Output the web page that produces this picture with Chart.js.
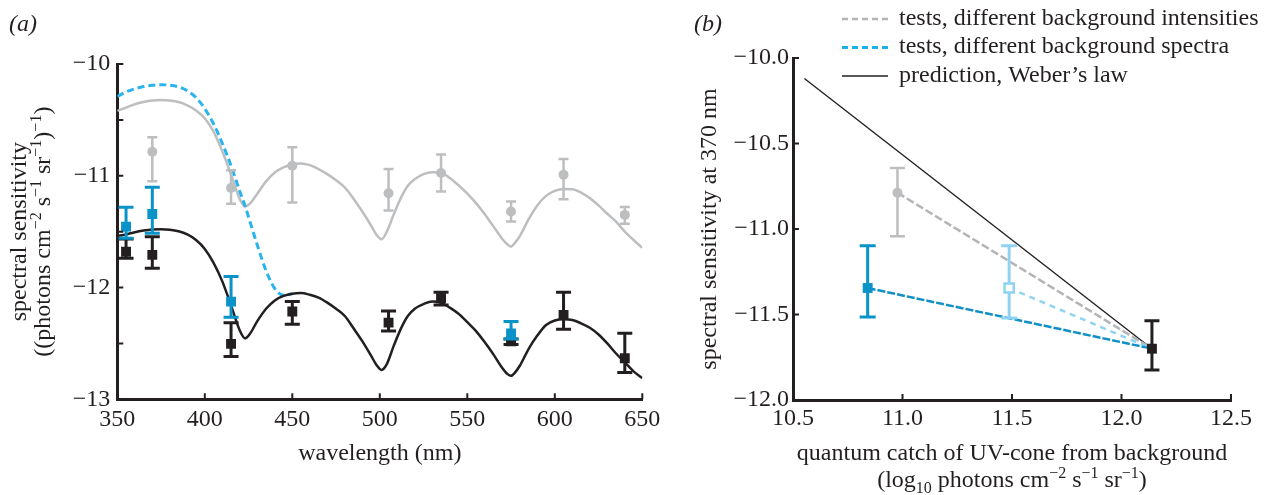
<!DOCTYPE html>
<html>
<head>
<meta charset="utf-8">
<script src="https://cdn.jsdelivr.net/npm/chart.js@4.4.1/dist/chart.umd.min.js"></script>
<style>
  html, body { margin: 0; padding: 0; background: #fff; }
  #wrap { position: relative; width: 1265px; height: 495px; overflow: hidden; }
  #panelA { position: absolute; left: 0; top: 0; }
  #panelB { position: absolute; left: 680px; top: 0; }
</style>
</head>
<body>
<div id="wrap">
  <canvas id="panelA" width="670" height="495"></canvas>
  <canvas id="panelB" width="585" height="495"></canvas>
</div>
<script>
// ---- panel (a): model curves, spectral sensitivity vs wavelength ----
const wavelengths = [350, 355, 360, 365, 370, 375, 380, 385, 390, 395, 400, 405, 410, 415, 420, 423, 426, 430, 435, 440,
  445, 450, 455, 460, 465, 470, 475, 480, 485, 490, 495, 498, 501, 504, 508, 512, 516, 520, 525, 530,
  535, 540, 545, 550, 555, 560, 565, 570, 573, 575, 577, 580, 585, 590, 595, 600, 605, 610, 615, 620,
  625, 630, 635, 640, 645, 650];
const curveIntensity = [-10.42, -10.39, -10.36, -10.34, -10.327, -10.322, -10.327, -10.34, -10.37, -10.415, -10.485, -10.605, -10.78, -10.99, -11.21, -11.275, -11.245, -11.16, -11.05, -10.97,
  -10.925, -10.90, -10.89, -10.905, -10.94, -10.985, -11.04, -11.105, -11.205, -11.32, -11.445, -11.525, -11.568, -11.50, -11.345, -11.20, -11.09, -11.03, -10.985, -10.968,
  -10.972, -11.02, -11.085, -11.16, -11.245, -11.345, -11.455, -11.565, -11.615, -11.634, -11.605, -11.54, -11.39, -11.265, -11.18, -11.135, -11.118, -11.12, -11.15, -11.20,
  -11.265, -11.34, -11.41, -11.50, -11.575, -11.645];
const curvePrediction = [-11.54, -11.525, -11.505, -11.49, -11.48, -11.478, -11.483, -11.497, -11.525, -11.575, -11.655, -11.78, -11.945, -12.16, -12.385, -12.455, -12.41, -12.30, -12.19, -12.115,
  -12.075, -12.055, -12.05, -12.065, -12.09, -12.135, -12.19, -12.255, -12.365, -12.48, -12.61, -12.69, -12.737, -12.685, -12.52, -12.37, -12.255, -12.19, -12.148, -12.125,
  -12.135, -12.18, -12.235, -12.31, -12.39, -12.49, -12.60, -12.72, -12.775, -12.79, -12.765, -12.70, -12.55, -12.43, -12.335, -12.295, -12.283, -12.29, -12.32, -12.36,
  -12.42, -12.50, -12.59, -12.67, -12.75, -12.81];
const spectraWl = [350, 355, 360, 365, 370, 375, 380, 385, 390, 395, 400, 405, 410, 415, 420, 423, 426, 430, 435, 440, 445, 450];
const curveSpectra = [-10.29, -10.25, -10.222, -10.202, -10.19, -10.185, -10.19, -10.205, -10.24, -10.30, -10.40, -10.535, -10.71, -10.91, -11.14, -11.27, -11.42, -11.62, -11.85, -12.01, -12.07, -12.055];

// ---- panel (a): measurements with error bars ----
const grayWl = [370, 415, 450, 505, 535, 575, 605, 640];
const grayMean = [-10.785, -11.11, -10.91, -11.157, -10.975, -11.32, -10.99, -11.35];
const grayHi = [-10.655, -10.95, -10.745, -10.94, -10.81, -11.23, -10.85, -11.28];
const grayLo = [-11.05, -11.25, -11.24, -11.31, -11.14, -11.41, -11.21, -11.43];

const blackWl = [355, 370, 415, 450, 505, 535, 575, 605, 640];
const blackMean = [-11.68, -11.708, -12.504, -12.215, -12.314, -12.096, -12.48, -12.245, -12.633];
const blackHi = [-11.565, -11.545, -12.314, -12.125, -12.209, -12.042, -12.46, -12.042, -12.409];
const blackLo = [-11.738, -11.828, -12.618, -12.328, -12.388, -12.156, -12.51, -12.373, -12.761];

const blueWl = [355, 370, 415, 575];
const blueMean = [-11.455, -11.342, -12.126, -12.41];
const blueHi = [-11.282, -11.103, -11.902, -12.305];
const blueLo = [-11.559, -11.514, -12.266, -12.46];

// ---- panel (b): sensitivity at 370 nm vs background quantum catch ----
const catchGray = [10.977], sensGray = [-10.788], sensGrayHi = [-10.643], sensGrayLo = [-11.043];
const catchBlue = [10.841], sensBlue = [-11.345], sensBlueHi = [-11.098], sensBlueLo = [-11.514];
const catchBlueAlt = [11.487], sensBlueAlt = [-11.345], sensBlueAltHi = [-11.098], sensBlueAltLo = [-11.52];
const catchBlack = [12.139], sensBlack = [-11.70], sensBlackHi = [-11.537], sensBlackLo = [-11.825];
const weberCatch = [10.552, 12.139];
const weberSens = [-10.12, -11.70];

const legendLabels = ['tests, different background intensities', 'tests, different background spectra', 'prediction, Weber\u2019s law'];

const SERIF = "'Liberation Serif', 'Times New Roman', serif";
const INK = '#231f20';
const GRAY = '#bcbec0';
const BLUE = '#0a93c8';
const CYAN = '#2ab4ee';
const LIGHT = '#8fd3f3';
const MINUS = '\u2212';

Chart.defaults.font.family = SERIF;
Chart.defaults.font.size = 24;
Chart.defaults.color = INK;

const pts = (xs, ys) => xs.map((x, i) => ({ x: x, y: ys[i] }));

// vertical error bars, drawn just before their dataset so markers sit on top
const errorBars = {
  id: 'errorBars',
  beforeDatasetDraw(chart, args) {
    const ds = chart.data.datasets[args.index];
    if (!ds.errLo) return;
    const xs = chart.scales.x, ys = chart.scales.y;
    const ctx = chart.ctx;
    const half = ds.capWidth / 2;
    ctx.save();
    ctx.strokeStyle = ds.errColor;
    ctx.lineWidth = ds.errWidth;
    ctx.setLineDash([]);
    ctx.beginPath();
    ds.data.forEach((p, i) => {
      const px = xs.getPixelForValue(p.x);
      const top = ys.getPixelForValue(ds.errHi[i]);
      const bot = ys.getPixelForValue(ds.errLo[i]);
      ctx.moveTo(px, top); ctx.lineTo(px, bot);
      ctx.moveTo(px - half, top); ctx.lineTo(px + half, top);
      ctx.moveTo(px - half, bot); ctx.lineTo(px + half, bot);
    });
    ctx.stroke();
    ctx.restore();
  }
};

// ticks point into the plot
function inwardTicks(chart, len) {
  const ctx = chart.ctx, area = chart.chartArea;
  const xs = chart.scales.x, ys = chart.scales.y;
  ctx.save();
  ctx.strokeStyle = INK;
  ctx.lineWidth = 2;
  ctx.beginPath();
  xs.ticks.forEach(t => {
    const px = xs.getPixelForValue(t.value);
    ctx.moveTo(px, area.bottom); ctx.lineTo(px, area.bottom - len);
  });
  ys.ticks.forEach(t => {
    const py = ys.getPixelForValue(t.value);
    ctx.moveTo(area.left, py); ctx.lineTo(area.left + len, py);
  });
  ctx.stroke();
  ctx.restore();
}

// text with super/subscripts: parts = [[text, shift]], shift 1 = sup, -1 = sub
function richText(ctx, parts, x, y, size, align) {
  const small = Math.round(size * 0.66);
  const font = s => (s ? small : size) + 'px ' + SERIF;
  let total = 0;
  parts.forEach(([t, s]) => { ctx.font = font(s); total += ctx.measureText(t).width; });
  let cx = align === 'center' ? x - total / 2 : x;
  ctx.textAlign = 'left';
  ctx.textBaseline = 'alphabetic';
  parts.forEach(([t, s]) => {
    ctx.font = font(s);
    const dy = s === 1 ? -size * 0.38 : (s === -1 ? size * 0.24 : 0);
    ctx.fillText(t, cx, y + dy);
    cx += ctx.measureText(t).width;
  });
}

function rotatedText(ctx, parts, baseX, centerY, size) {
  ctx.save();
  ctx.translate(baseX, centerY);
  ctx.rotate(-Math.PI / 2);
  richText(ctx, parts, 0, 0, size, 'center');
  ctx.restore();
}

const panelADecor = {
  id: 'panelADecor',
  afterDraw(chart) {
    const ctx = chart.ctx, area = chart.chartArea;
    inwardTicks(chart, 6);
    ctx.save();
    ctx.fillStyle = INK;
    ctx.font = 'italic 24px ' + SERIF;
    ctx.textAlign = 'left';
    ctx.textBaseline = 'alphabetic';
    ctx.fillText('(a)', 9, 31);
    richText(ctx, [['wavelength (nm)', 0]], (area.left + area.right) / 2, 460, 24, 'center');
    const midY = (area.top + area.bottom) / 2;
    rotatedText(ctx, [['spectral sensitivity', 0]], 26, midY, 24);
    rotatedText(ctx, [['((photons cm', 0], [MINUS + '2', 1], [' s', 0], [MINUS + '1', 1], [' sr', 0], [MINUS + '1', 1], [')', 0], [MINUS + '1', 1], [')', 0]], 50, midY, 24);
    ctx.restore();
  }
};

const panelBDecor = {
  id: 'panelBDecor',
  afterDraw(chart) {
    const ctx = chart.ctx, area = chart.chartArea;
    inwardTicks(chart, 6);
    ctx.save();
    ctx.fillStyle = INK;
    ctx.font = 'italic 24px ' + SERIF;
    ctx.textAlign = 'left';
    ctx.textBaseline = 'alphabetic';
    ctx.fillText('(b)', 14, 31);

    // legend
    const samples = [
      { color: '#b3b4b7', dash: [6, 4], width: 2.5 },
      { color: '#1ab0ea', dash: [6, 4], width: 3 },
      { color: INK, dash: [], width: 1.5 }
    ];
    const baselines = [24.5, 53, 81.5];
    legendLabels.forEach((label, i) => {
      const ly = baselines[i] - 5.5;
      ctx.save();
      ctx.strokeStyle = samples[i].color;
      ctx.lineWidth = samples[i].width;
      ctx.setLineDash(samples[i].dash);
      ctx.beginPath();
      ctx.moveTo(162, ly); ctx.lineTo(208, ly);
      ctx.stroke();
      ctx.restore();
      ctx.fillStyle = INK;
      ctx.font = '24px ' + SERIF;
      ctx.fillText(label, 219, baselines[i]);
    });

    const midX = (area.left + area.right) / 2;
    richText(ctx, [['quantum catch of UV-cone from background', 0]], midX, 460, 24, 'center');
    richText(ctx, [['(log', 0], ['10', -1], [' photons cm', 0], [MINUS + '2', 1], [' s', 0], [MINUS + '1', 1], [' sr', 0], [MINUS + '1', 1], [')', 0]], midX, 487, 24, 'center');
    rotatedText(ctx, [['spectral sensitivity at 370 nm', 0]], 36, (area.top + area.bottom) / 2, 24);
    ctx.restore();
  }
};

function axis(min, max, step, fmt, pad, extra) {
  return Object.assign({
    type: 'linear',
    min: min,
    max: max,
    ticks: { stepSize: step, callback: fmt, padding: pad, autoSkip: false, maxRotation: 0, color: INK, font: { size: 24, family: SERIF } },
    grid: { display: false, drawTicks: false },
    border: { display: true, color: INK, width: 3 }
  }, extra);
}

const curveStyle = { showLine: true, pointRadius: 0, cubicInterpolationMode: 'monotone', fill: false };

new Chart(document.getElementById('panelA'), {
  type: 'scatter',
  data: {
    datasets: [
      Object.assign({ data: pts(wavelengths, curveIntensity), borderColor: GRAY, borderWidth: 2.5, order: 9 }, curveStyle),
      Object.assign({ data: pts(spectraWl, curveSpectra), borderColor: CYAN, borderWidth: 3, borderDash: [7, 4], order: 8 }, curveStyle),
      Object.assign({ data: pts(wavelengths, curvePrediction), borderColor: INK, borderWidth: 2.5, order: 7 }, curveStyle),
      {
        data: pts(grayWl, grayMean), pointStyle: 'circle', pointRadius: 5, backgroundColor: GRAY, borderWidth: 0,
        errHi: grayHi, errLo: grayLo, errColor: GRAY, errWidth: 2.5, capWidth: 10, order: 6
      },
      {
        data: pts(blackWl, blackMean), pointStyle: 'rect', pointRadius: 7, backgroundColor: INK, borderWidth: 0,
        errHi: blackHi, errLo: blackLo, errColor: INK, errWidth: 3, capWidth: 15, order: 5
      },
      {
        data: pts(blueWl, blueMean), pointStyle: 'rect', pointRadius: 7, backgroundColor: BLUE, borderWidth: 0,
        errHi: blueHi, errLo: blueLo, errColor: BLUE, errWidth: 3, capWidth: 15, order: 4
      }
    ]
  },
  options: {
    responsive: false,
    animation: false,
    events: [],
    layout: { padding: { left: 0, top: 64, right: 27.7, bottom: 0 } },
    plugins: { legend: { display: false }, tooltip: { enabled: false } },
    scales: {
      x: axis(350, 650, 50, v => String(v), 6, {
        afterFit(s) { s.height = 95.7; s.paddingLeft = 0; s.paddingRight = 0; }
      }),
      y: axis(-13, -10, 0.5, v => Number.isInteger(v) ? MINUS + Math.abs(v) : '', 7, {
        afterFit(s) { s.width = 117.3; s.paddingTop = 0; s.paddingBottom = 0; }
      })
    }
  },
  plugins: [errorBars, panelADecor]
});

const segment = (xa, ya, xb, yb) => pts([xa[0], xb[0]], [ya[0], yb[0]]);

new Chart(document.getElementById('panelB'), {
  type: 'scatter',
  data: {
    datasets: [
      { data: pts(weberCatch, weberSens), showLine: true, pointRadius: 0, borderColor: INK, borderWidth: 1.4, order: 9 },
      { data: segment(catchGray, sensGray, catchBlack, sensBlack), showLine: true, pointRadius: 0, borderColor: '#b3b4b7', borderWidth: 2.5, borderDash: [8, 3], order: 8 },
      { data: segment(catchBlueAlt, sensBlueAlt, catchBlack, sensBlack), showLine: true, pointRadius: 0, borderColor: LIGHT, borderWidth: 2.5, borderDash: [6, 5], order: 7 },
      { data: segment(catchBlue, sensBlue, catchBlack, sensBlack), showLine: true, pointRadius: 0, borderColor: '#1090c6', borderWidth: 2.5, borderDash: [8, 2], order: 6 },
      {
        data: pts(catchGray, sensGray), pointStyle: 'circle', pointRadius: 5, backgroundColor: GRAY, borderWidth: 0,
        errHi: sensGrayHi, errLo: sensGrayLo, errColor: GRAY, errWidth: 2.5, capWidth: 15, order: 5
      },
      {
        data: pts(catchBlueAlt, sensBlueAlt), pointStyle: 'rect', pointRadius: 6.5, backgroundColor: '#fff', borderColor: LIGHT, borderWidth: 2.5,
        errHi: sensBlueAltHi, errLo: sensBlueAltLo, errColor: LIGHT, errWidth: 3, capWidth: 16, order: 4
      },
      {
        data: pts(catchBlue, sensBlue), pointStyle: 'rect', pointRadius: 7, backgroundColor: BLUE, borderWidth: 0,
        errHi: sensBlueHi, errLo: sensBlueLo, errColor: BLUE, errWidth: 3, capWidth: 16, order: 3
      },
      {
        data: pts(catchBlack, sensBlack), pointStyle: 'rect', pointRadius: 7, backgroundColor: INK, borderWidth: 0,
        errHi: sensBlackHi, errLo: sensBlackLo, errColor: INK, errWidth: 3, capWidth: 15, order: 2
      }
    ]
  },
  options: {
    responsive: false,
    animation: false,
    events: [],
    layout: { padding: { left: 0, top: 58, right: 34, bottom: 0 } },
    plugins: { legend: { display: false }, tooltip: { enabled: false } },
    scales: {
      x: axis(10.5, 12.5, 0.5, v => v.toFixed(1), 4, {
        afterFit(s) { s.height = 95; s.paddingLeft = 0; s.paddingRight = 0; }
      }),
      y: axis(-12, -10, 0.5, v => MINUS + Math.abs(v).toFixed(1), 4, {
        afterFit(s) { s.width = 113; s.paddingTop = 0; s.paddingBottom = 0; }
      })
    }
  },
  plugins: [errorBars, panelBDecor]
});
</script>
</body>
</html>
